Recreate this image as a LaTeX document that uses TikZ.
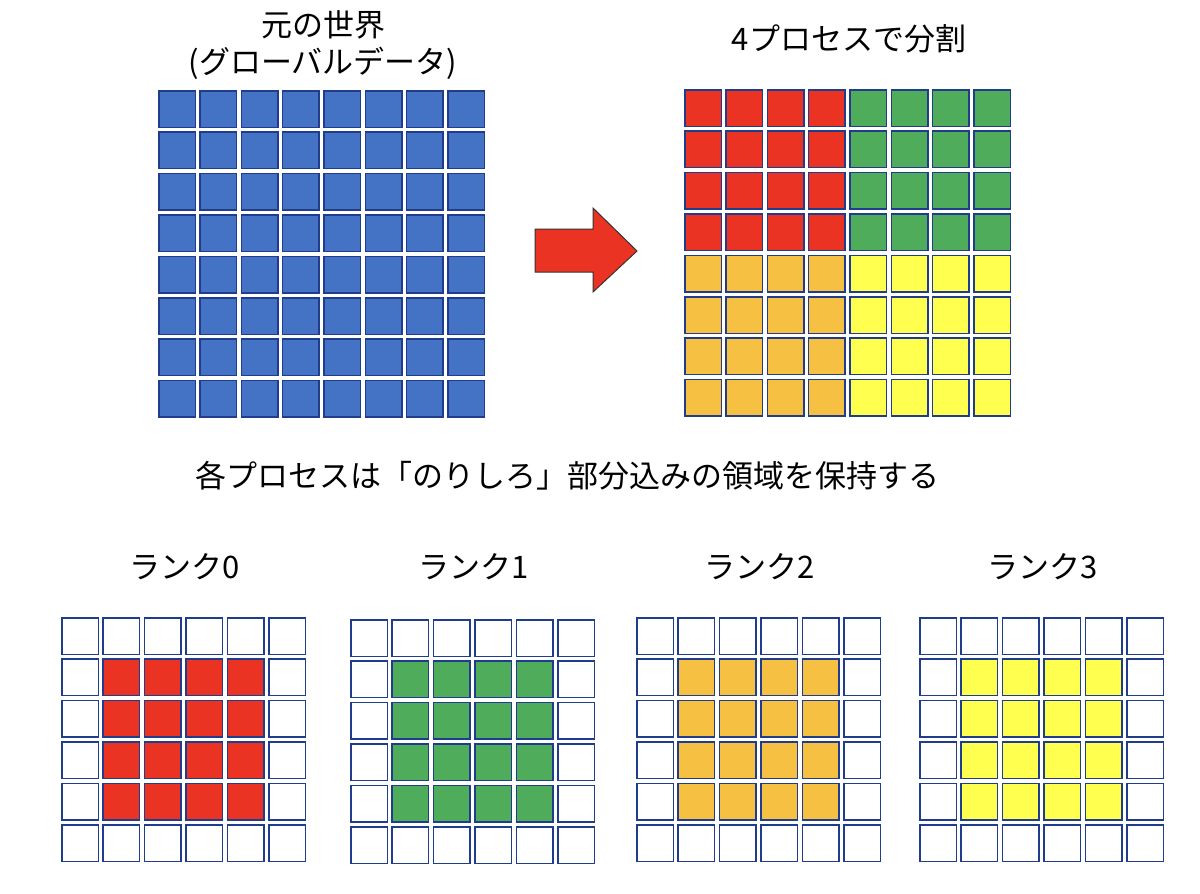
\documentclass[tikz,border=0pt]{standalone}
\usepackage{fontspec}
\setmainfont{Noto Sans CJK JP}
\usetikzlibrary{positioning}
\definecolor{cellblue}{HTML}{4472C4}
\definecolor{cellred}{HTML}{EA3323}
\definecolor{cellgreen}{HTML}{4EAC5B}
\definecolor{cellorange}{HTML}{F6C142}
\definecolor{cellyellow}{HTML}{FFFF4F}
\definecolor{celledge}{HTML}{203C8C}

\begin{document}
\begin{tikzpicture}[x=1pt, y=-1pt,
        cell/.style={draw=celledge, line width=1.5pt, minimum size=36.5pt, inner sep=0pt},
        txt/.style={font=\fontsize{31}{36}\selectfont, inner sep=0pt}]
        \useasboundingbox (0,0) rectangle (1200,894);

        \node[txt] (world) at (323,25) {元の世界};
        \node[txt] (globaldata) at (323,63) {(グローバルデータ)};
        \node[txt] (split) at (849,39) {4プロセスで分割};
        \node[txt] (halo) at (567,476) {各プロセスは「のりしろ」部分込みの領域を保持する};

        \foreach \r in {0,...,7}
            \foreach \c in {0,...,7}
                \node[cell, fill=cellblue] (g-\r-\c) at ({177+41.3*\c}, {109+41.4*\r}) {};

        \draw[fill=cellred, draw=black!80, line width=1pt] (535,229) -- (593,229) -- (593,208) -- (637,251)
            -- (593,292) -- (593,272) -- (535,272) -- cycle;

        \foreach \col/\ro/\co in {cellred/0/0, cellgreen/0/4, cellorange/4/0, cellyellow/4/4}
            \foreach \r in {0,...,3}
                \foreach \c in {0,...,3}
                    \node[cell, fill=\col] (d-\ro-\co-\r-\c) at ({703+41.3*(\co+\c)}, {108+41.4*(\ro+\r)}) {};

        \foreach \k/\x/\y/\col in {0/61/617/cellred, 1/350/619/cellgreen, 2/636/617/cellorange, 3/919/617/cellyellow} {
            \node[txt] (rank\k) at (\x+124, 567) {ランク\k};
            \foreach \r in {0,...,5}
                \foreach \c in {0,...,5} {
                    \pgfmathtruncatemacro\inside{and(and(\r>0,\r<5),and(\c>0,\c<5))}
                    \ifnum\inside=1 \def\fillc{\col}\else\def\fillc{white}\fi
                    \node[cell, fill=\fillc] (r\k-\r-\c) at ({\x+19+41.4*\c}, {\y+19+41.4*\r}) {};
                }
        }
    \end{tikzpicture}
\end{document}
